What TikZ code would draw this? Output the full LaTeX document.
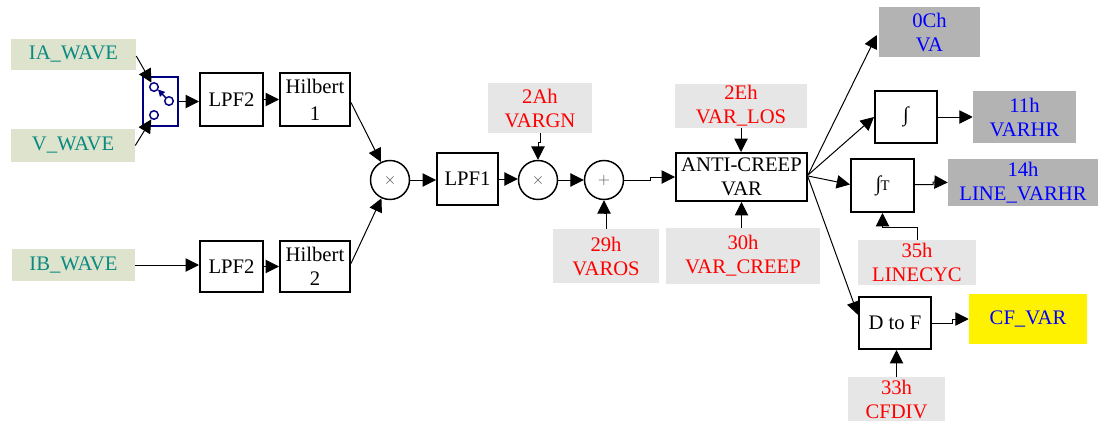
\documentclass[tikz,border=0pt]{standalone}
\usepackage{fontspec}
\setmainfont{Liberation Serif}
\usetikzlibrary{arrows.meta,calc}
\definecolor{wavebg}{HTML}{DDE3CD}
\definecolor{waveink}{HTML}{0A8A80}
\definecolor{regbg}{HTML}{E6E6E6}
\definecolor{outbg}{HTML}{B3B3B3}
\definecolor{swnavy}{HTML}{000080}
\newcommand\blkat[6]{\node[#1,minimum width=#4*0.75pt,minimum height=#5*0.75pt] (#2) at (#3) {#6};}
\begin{document}
\begin{tikzpicture}[x=0.75pt,y=-0.75pt, font=\fontsize{15.5}{18}\selectfont,
 blk/.style={draw, line width=1.5pt, align=center, inner sep=1pt},
 wave/.style={fill=wavebg, text=waveink, inner sep=1pt},
 reg/.style={fill=regbg, text=red, align=center, inner sep=1pt},
 outp/.style={fill=outbg, text=blue, align=center, inner sep=1pt},
 cfbox/.style={fill=yellow, text=blue, inner sep=1pt},
 swbox/.style={draw=swnavy, line width=1.3pt, inner sep=0pt},
 op/.style={circle, draw, line width=1.1pt, minimum size=39*0.75pt, inner sep=0pt, text=black!70, font=\fontsize{12}{12}\selectfont},
 conn/.style={line width=0.75pt, -{Triangle[length=10pt,width=10pt]}},
 ]
\useasboundingbox (0,0) rectangle (1100,421);
% inputs
\blkat{wave}{IA}{73.5,54.5}{125}{31}{IA\_WAVE}
\blkat{wave}{V}{73,145.5}{124}{33}{V\_WAVE}
\blkat{wave}{IB}{73.5,265}{123}{32}{IB\_WAVE}
% switch
\blkat{swbox}{SW}{160.5,101.5}{35}{49}{}
\coordinate (sw1) at (154,87);
\coordinate (sw2) at (169,101);
\coordinate (sw3) at (154,115);
\foreach \c in {sw1,sw2,sw3} \draw[swnavy, line width=1.1pt, fill=white] (\c) circle (3.2pt);
\draw[swnavy, line width=1.1pt, -{Triangle[length=5pt,width=5pt]}] ($(sw2)+(-3.5,-3.5)$) -- ($(sw1)+(4,2.5)$);
% filters
\blkat{blk}{LPFa}{231.5,99.5}{63}{53}{LPF2}
\blkat{blk}{HILa}{315,99.5}{70}{53}{Hilbert\\[2pt]1}
\blkat{blk}{LPFb}{231.5,266.5}{63}{51}{LPF2}
\blkat{blk}{HILb}{315,266.5}{70}{51}{Hilbert\\2}
\node[op] (M1) at (390,180) {$\times$};
\blkat{blk}{LPF1}{467.5,179}{61}{52}{LPF1}
\node[op] (M2) at (538,180) {$\times$};
\node[op] (ADD) at (604,180) {$+$};
\blkat{reg}{VARGN}{540,108}{104}{50}{2Ah\\VARGN}
\blkat{reg}{VAROS}{606,256}{106}{54}{29h\\VAROS}
\blkat{blk}{ANTI}{741.5,177}{131}{48}{ANTI-CREEP\\VAR}
\blkat{reg}{LOS}{741,106}{132}{44}{2Eh\\VAR\_LOS}
\blkat{reg}{CREEP}{743,256}{154}{56}{30h\\VAR\_CREEP}
% outputs
\blkat{outp}{VA}{929.5,32}{101}{50}{0Ch\\VA}
\blkat{blk}{INT}{906,117}{62}{52}{∫}
\blkat{outp}{VARHR}{1024.5,117}{103}{52}{11h\\VARHR}
\blkat{blk}{INTT}{882.5,185.5}{63}{53}{∫\hspace{-0.5pt}{\fontsize{11}{12}\selectfont T}}
\blkat{outp}{LVARHR}{1023,182.5}{150}{47}{14h\\LINE\_VARHR}
\blkat{reg}{LCYC}{917,262.5}{118}{45}{35h\\LINECYC}
\blkat{blk}{DTF}{895,323}{72}{52}{D to F}
\blkat{cfbox}{CFVAR}{1028,319}{118}{50}{CF\_VAR}
\blkat{reg}{CFDIV}{896.5,399}{97}{44}{33h\\CFDIV}
% connectors
\draw[conn, shorten >=3.8pt] ($(IA.east)+(0,1.5)$) -- (sw1);
\draw[conn, shorten >=3.8pt] (V.east) -- (sw3);
\draw[conn] (SW.east) -- (SW.east -| LPFa.west);
\draw[conn] (LPFa.east) -- (LPFa.east -| HILa.west);
\draw[conn] ($(HILa.east)+(0,3)$) -- (M1);
\draw[conn] (IB.east) -- (IB.east -| LPFb.west);
\draw[conn] (LPFb.east) -- (LPFb.east -| HILb.west);
\draw[conn] ($(HILb.east)+(0,-3)$) -- (M1);
\draw[conn] (M1.east) -- (M1.east -| LPF1.west);
\draw[conn] (LPF1.east) -- (LPF1.east -| M2.west);
\draw[conn] (M2) -- (ADD);
\draw[conn] (VARGN.south) -- ++(0,9) -| (M2.north);
\draw[conn] (VAROS.north) -- ++(0,-15) -| (ADD.south);
\draw[conn] (ADD.east) -- (650,180) -- (650,177) -- (ANTI.west);
\draw[conn] (LOS.south) -- (LOS.south |- ANTI.north);
\draw[conn] (CREEP.north -| ANTI.south) -- (ANTI.south);
\draw[conn] ($(ANTI.east)+(0,-2)$) -- ($(VA.west)+(-2,3)$);
\draw[conn] ($(ANTI.east)+(0,-2)$) -- (INT.west);
\draw[conn] ($(ANTI.east)+(0,-1)$) -- ($(INTT.west)+(0,-1)$);
\draw[conn] ($(ANTI.east)+(0,0)$) -- ($(DTF.north west)!0.35!(DTF.south west)$);
\draw[conn] (INT.east) -- (INT.east -| VARHR.west);
\draw[conn] ($(INTT.east)+(0,-1)$) -- (933,184.5) -- (933,182) -- (LVARHR.west);
\draw[conn] (LCYC.north) -- ++(0,-12) -| (INTT.south);
\draw[conn] (DTF.east) -- (952,323) -- (952,319) -- (CFVAR.west);
\draw[conn] (CFDIV.north) -- (CFDIV.north |- DTF.south);
\end{tikzpicture}
\end{document}
